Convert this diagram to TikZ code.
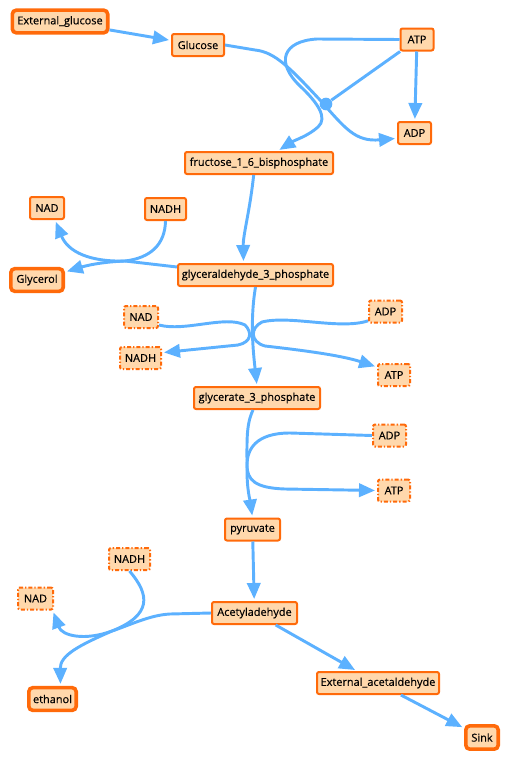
\documentclass[tikz,border=0pt]{standalone}
\usepackage{fontspec}
\setmainfont[FakeBold=0.4]{Open Sans}
\usetikzlibrary{arrows.meta}
\definecolor{ocol}{HTML}{FF6A0A}
\definecolor{pcol}{HTML}{FFD8AC}
\definecolor{ecol}{HTML}{5CB1FF}
\begin{document}
\begin{tikzpicture}[x=0.75pt,y=-0.75pt,
 sp/.style={draw=ocol, fill=pcol, line width=1.5pt, rounded corners=1.5pt, inner sep=0pt, minimum height=16.5pt, font=\fontsize{8.2}{9.5}\selectfont, text=black},
 tk/.style={sp, line width=2.7pt, rounded corners=3pt, minimum height=17pt},
 dd/.style={sp, dash pattern=on 3pt off 1.5pt on 1pt off 1.5pt},
 bw/.style={minimum width=(#1-2)*0.75pt},
 tbw/.style={minimum width=(#1-3.6)*0.75pt},
 ed/.style={draw=ecol, line width=2.2pt},
 ar/.style={ed, -{Triangle[length=12pt,width=10pt]}, shorten >=1.5pt},
 ]
\useasboundingbox (0,0) rectangle (509,760);
% nodes
\node[tk,tbw=99] (eglc) at (60,21.5) {External\_glucose};
\node[sp,bw=54] (glc) at (198,45) {Glucose};
\node[sp,bw=35] (atp1) at (417,39.5) {ATP};
\node[sp,bw=35] (adp1) at (414.5,133) {ADP};
\node[sp,bw=150] (fru) at (259,163) {fructose\_1\_6\_bisphosphate};
\node[sp,bw=36] (nad1) at (47,208) {NAD};
\node[sp,bw=43] (nadh1) at (165.5,209) {NADH};
\node[tk,tbw=56] (gly) at (37,280) {Glycerol};
\node[sp,bw=157] (gap) at (255.5,275) {glyceraldehyde\_3\_phosphate};
\node[dd,bw=36] (nad2) at (141,317) {NAD};
\node[dd,bw=35] (adp2) at (385.5,311.5) {ADP};
\node[dd,bw=43] (nadh2) at (140.5,358) {NADH};
\node[dd,bw=34] (atp2) at (394,375) {ATP};
\node[sp,bw=128] (glyc) at (257,398) {glycerate\_3\_phosphate};
\node[dd,bw=35] (adp3) at (389.5,435.5) {ADP};
\node[dd,bw=34] (atp3) at (394,490.5) {ATP};
\node[sp,bw=57] (pyr) at (252.5,529.5) {pyruvate};
\node[dd,bw=43] (nadh3) at (129.5,559) {NADH};
\node[dd,bw=37] (nad3) at (35.5,598.5) {NAD};
\node[sp,bw=87] (acet) at (254.5,613) {Acetyladehyde};
\node[sp,bw=124] (extac) at (378,683) {External\_acetaldehyde};
\node[tk,tbw=51] (eth) at (52.5,699) {ethanol};
\node[tk,tbw=36,minimum height=17.5pt] (sink) at (482,737.5) {Sink};
\node[circle, fill=ecol, inner sep=0pt, minimum size=9.5pt] (dot) at (326,104) {};
\coordinate (m1) at (125,261);
\coordinate (m2) at (112,631);
% edges
\draw[ar] (eglc) -- (glc);
\draw[ar] (glc.east) -- (255,50) .. controls (275,52) and (290,68) .. (320,100) .. controls (345,128) and (355,142) .. ([yshift=-4pt]adp1.west);
\draw[ar] (atp1.west) -- (317,39) .. controls (283,41) and (275,62) .. (300,86) .. controls (318,103) and (328,118) .. (318,127) .. controls (308,136) and (295,140) .. ([xshift=14pt]fru.north);
\draw[ed] (atp1) -- (dot);
\draw[ar] (atp1) -- (adp1);
\draw[ar] ([xshift=-4pt]fru.south) .. controls (250,210) and (243,235) .. ([xshift=-9pt]gap.north);
% glycerol branch
\draw[ed] ([yshift=6pt]gap.west) -- (m1);
\draw[ed] (nadh1.south) .. controls (165,245) and (150,258) .. (m1);
\draw[ar] (m1) .. controls (100,262) and (85,266) .. ([yshift=6pt]gly.east);
\draw[ar] (m1) .. controls (90,262) and (68,252) .. ([xshift=6pt]nad1.south);
% gap -> glycerate
\draw[ar] (gap.south) .. controls (250,320) and (253,350) .. (glyc.north);
\draw[ar] ([yshift=-6pt]nad2.east) .. controls (185,332) and (225,315) .. (245,325) .. controls (252,332) and (252,342) .. (238,345) -- ([yshift=4pt]nadh2.east);
\draw[ar] ([yshift=-7pt]adp2.west) .. controls (340,330) and (290,315) .. (262,322) .. controls (250,328) and (250,342) .. (265,346) .. controls (300,350) and (340,355) .. ([yshift=6pt]atp2.west);
% glycerate -> pyruvate
\draw[ar] ([xshift=-3pt]glyc.south) .. controls (246,425) and (247,440) .. (247,470) .. controls (247,490) and (250,500) .. (pyr.north);
\draw[ar] (adp3.west) -- (290,433) .. controls (255,433) and (247,450) .. (247,465) .. controls (247,480) and (255,488) .. (285,489) -- (atp3.west);
\draw[ar] (pyr) -- (acet);
% ethanol branch
\draw[ed] (acet.west) -- (170,614) .. controls (150,615) and (130,625) .. (m2);
\draw[ed] (nadh3.south) .. controls (150,595) and (152,615) .. (m2);
\draw[ar] (m2) .. controls (85,641) and (62,636) .. ([xshift=13pt]nad3.south);
\draw[ar] (m2) .. controls (80,645) and (60,655) .. ([xshift=6pt]eth.north);
\draw[ar] (acet) -- (extac);
\draw[ar] (extac) -- (sink);
\end{tikzpicture}
\end{document}
